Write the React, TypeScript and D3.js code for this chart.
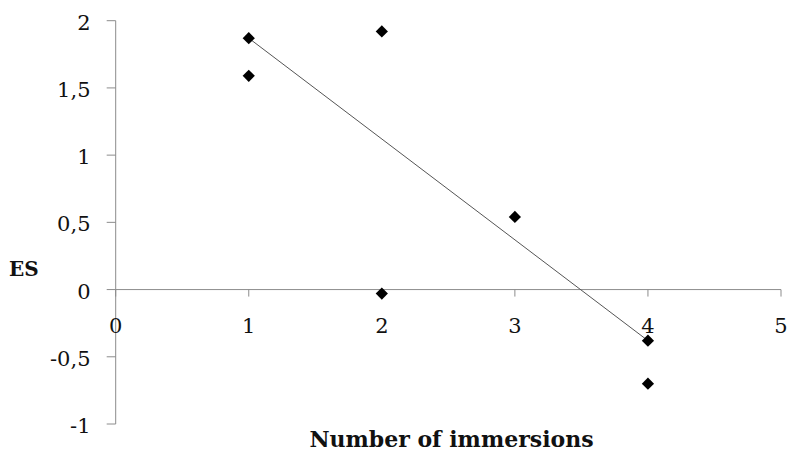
import React from "react";
import * as d3 from "d3";

const xTicks = [0, 1, 2, 3, 4, 5];
const yTicks = [2, 1.5, 1, 0.5, 0, -0.5, -1];
const yTickLabels = ["2", "1,5", "1", "0,5", "0", "-0,5", "-1"];
const xValues = [1, 1, 2, 2, 3, 4, 4];
const yValues = [1.87, 1.59, 1.92, -0.03, 0.54, -0.38, -0.7];
const trendX = [1, 4];
const trendY = [1.87, -0.38];

const W = 788;
const H = 453;

export default function App() {
  const x = d3.scaleLinear().domain([0, 5]).range([115.7, 781]);
  const y = d3.scaleLinear().domain([-1, 2]).range([424, 20.7]);
  const font = "'DejaVu Serif', serif";
  const axisColor = "#8c8c8c";
  const trend = d3
    .line<number>()
    .x((d, i) => x(trendX[i]))
    .y((d, i) => y(trendY[i]))(trendX) as string;
  const diamond = d3.symbol().type(d3.symbolDiamond2).size(95)() as string;
  return (
    <svg
      width={W}
      height={H}
      style={{ position: "absolute", left: 0, top: 0, background: "#fff" }}
    >
      {/* y axis */}
      <line x1={x(0)} x2={x(0)} y1={y(2)} y2={y(-1)} stroke={axisColor} strokeWidth={1} />
      {yTicks.map((t, i) => (
        <g key={"y" + i}>
          <line x1={x(0) - 9} x2={x(0)} y1={y(t)} y2={y(t)} stroke={axisColor} />
          <text
            x={90.5}
            y={y(t) + 9}
            textAnchor="end"
            fontFamily={font}
            fontSize={21}
            fill="#111"
          >
            {yTickLabels[i]}
          </text>
        </g>
      ))}
      {/* x axis at y=0 */}
      <line x1={x(0)} x2={x(5)} y1={y(0)} y2={y(0)} stroke={axisColor} strokeWidth={1} />
      {xTicks.map((t, i) => (
        <g key={"x" + i}>
          <line x1={x(t)} x2={x(t)} y1={y(0)} y2={y(0) + 7} stroke={axisColor} />
          <text
            x={x(t)}
            y={333}
            textAnchor="middle"
            fontFamily={font}
            fontSize={21}
            fill="#111"
          >
            {String(t)}
          </text>
        </g>
      ))}
      {/* trend line */}
      <path d={trend} fill="none" stroke="#555" strokeWidth={1} />
      {/* points */}
      {xValues.map((v, i) => (
        <path
          key={"p" + i}
          d={diamond}
          transform={`translate(${x(v)},${y(yValues[i])})`}
          fill="#000"
        />
      ))}
      {/* axis titles */}
      <text
        x={451.5}
        y={447}
        textAnchor="middle"
        fontFamily={font}
        fontWeight="bold"
        fontSize={22}
        fill="#111"
      >
        Number of immersions
      </text>
      <text
        x={9}
        y={276}
        fontFamily={font}
        fontWeight="bold"
        fontSize={20}
        fill="#111"
      >
        ES
      </text>
    </svg>
  );
}
